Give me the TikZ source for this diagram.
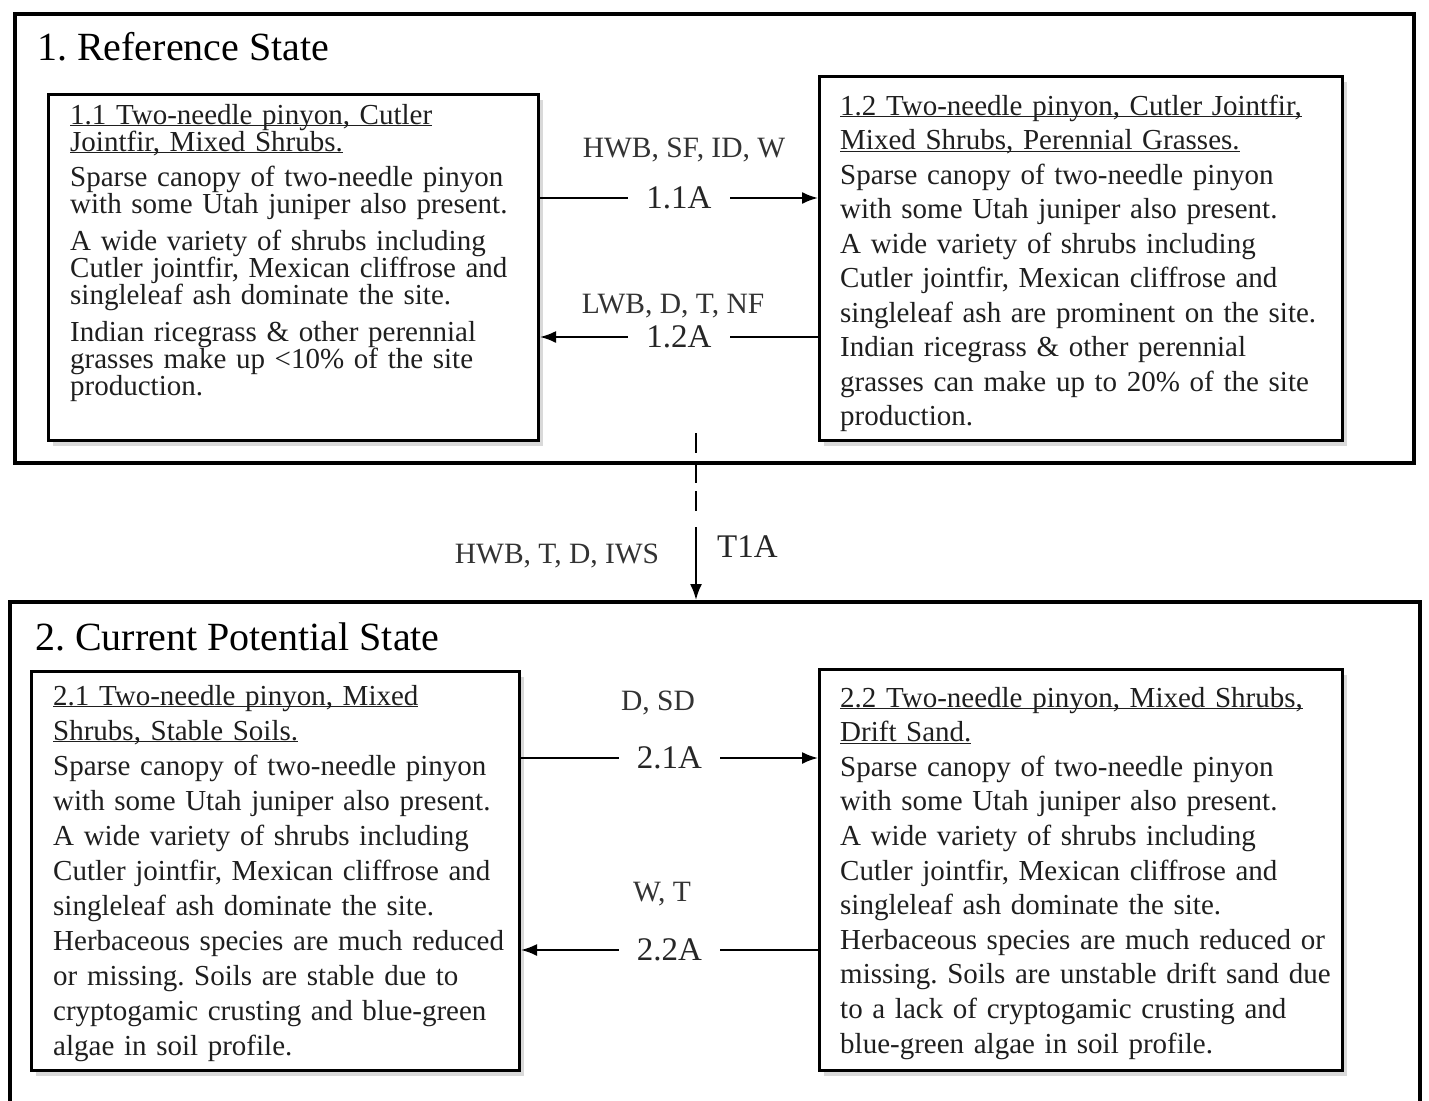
\documentclass[tikz,border=0pt]{standalone}
\usepackage{fontspec}
\setmainfont{Liberation Serif}
\usetikzlibrary{arrows.meta, shadows}
\newcommand\shead[1]{\underline{\smash{#1}}}

\begin{document}
\frenchspacing
\begin{tikzpicture}[x=1pt, y=-1pt]
            \tikzset{outerbox/.style = {draw, line width=4pt}}
            \tikzset{statebox/.style = {draw, line width=3pt, fill=white,
                drop shadow={shadow xshift=4pt, shadow yshift=-5pt, opacity=0.3}}}
            \tikzset{boxtext/.style = {anchor=base west, inner sep=0pt, align=left,
                text width=520pt, text=black!88}}
            \tikzset{title/.style = {anchor=base west, inner sep=0pt, font=\fontsize{40}{40}\selectfont}}
            \tikzset{cond/.style = {anchor=base, inner sep=0pt, text=black!80, font=\fontsize{29.5}{29.5}\selectfont}}
            \tikzset{numlabel/.style = {fill=white, inner xsep=18pt, inner ysep=2pt,
                text=black!85, font=\fontsize{33}{33}\selectfont}}
            \tikzset{trans/.style = {line width=2pt, -{Latex[length=16pt, width=12pt]}}}

            \useasboundingbox (0,0) rectangle (1429,1100);

            % states
            \node[outerbox, minimum width=1399pt, minimum height=449pt] (state1) at (714.5, 238.5) {};
            \node[outerbox, minimum width=1410pt, minimum height=518pt] (state2) at (715, 861) {};
            \node[title] (title1) at (37, 60) {1. Reference State};
            \node[title] (title2) at (35, 650) {2. Current Potential State};

            % communities
            \node[statebox, minimum width=490pt, minimum height=346pt] (s11) at (293.5, 267.5) {};
            \node[statebox, minimum width=523pt, minimum height=364pt] (s12) at (1081, 258.5) {};
            \node[statebox, minimum width=488pt, minimum height=399pt] (s21) at (275.5, 871) {};
            \node[statebox, minimum width=523pt, minimum height=401pt] (s22) at (1081, 870) {};

            \node[boxtext, font=\fontsize{29}{27}\selectfont] (s11txt) at (70, 124) {%
              \shead{1.1 Two-needle pinyon, Cutler}\\
              \shead{Jointfir, Mixed Shrubs.}\\[8pt]
              Sparse canopy of two-needle pinyon\\
              with some Utah juniper also present.\\[10pt]
              A wide variety of shrubs including\\
              Cutler jointfir, Mexican cliffrose and\\
              singleleaf ash dominate the site.\\[10pt]
              Indian ricegrass \& other perennial\\
              grasses make up <10\% of the site\\
              production.};
            \node[boxtext, font=\fontsize{29}{34.5}\selectfont] (s12txt) at (840, 115) {%
              \shead{1.2 Two-needle pinyon, Cutler Jointfir,}\\
              \shead{Mixed Shrubs, Perennial Grasses.}\\
              Sparse canopy of two-needle pinyon\\
              with some Utah juniper also present.\\
              A wide variety of shrubs including\\
              Cutler jointfir, Mexican cliffrose and\\
              singleleaf ash are prominent on the site.\\
              Indian ricegrass \& other perennial\\
              grasses can make up to 20\% of the site\\
              production.};
            \node[boxtext, font=\fontsize{29}{35}\selectfont] (s21txt) at (53, 705) {%
              \shead{2.1 Two-needle pinyon, Mixed}\\
              \shead{Shrubs, Stable Soils.}\\
              Sparse canopy of two-needle pinyon\\
              with some Utah juniper also present.\\
              A wide variety of shrubs including\\
              Cutler jointfir, Mexican cliffrose and\\
              singleleaf ash dominate the site.\\
              Herbaceous species are much reduced\\
              or missing. Soils are stable due to\\
              cryptogamic crusting and blue-green\\
              algae in soil profile.};
            \node[boxtext, font=\fontsize{29}{34.6}\selectfont] (s22txt) at (840, 707) {%
              \shead{2.2 Two-needle pinyon, Mixed Shrubs,}\\
              \shead{Drift Sand.}\\
              Sparse canopy of two-needle pinyon\\
              with some Utah juniper also present.\\
              A wide variety of shrubs including\\
              Cutler jointfir, Mexican cliffrose and\\
              singleleaf ash dominate the site.\\
              Herbaceous species are much reduced or\\
              missing. Soils are unstable drift sand due\\
              to a lack of cryptogamic crusting and\\
              blue-green algae in soil profile.};

            % pathways
            \coordinate (y11) at (0, 198);
            \coordinate (y12) at (0, 337);
            \coordinate (y21) at (0, 758);
            \coordinate (y22) at (0, 950);
            \coordinate (t1top) at (696, 433);

            \draw[trans] (s11.east |- y11) -- node[numlabel] (p11) {1.1A} (s12.west |- y11);
            \draw[trans] (s12.west |- y12) -- node[numlabel] (p12) {1.2A} (s11.east |- y12);
            \draw[trans] (s21.east |- y21) -- node[numlabel] (p21) {2.1A} (s22.west |- y21);
            \draw[trans] (s22.west |- y22) -- node[numlabel] (p22) {2.2A} (s21.east |- y22);
            \draw[trans, dash pattern=on 20pt off 10pt on 20pt off 8pt on 20pt off 16pt on 200pt]
              (t1top) -- (t1top |- state2.north);

            \node[cond] (c11) at (684, 157) {HWB, SF, ID, W};
            \node[cond] (c12) at (673, 313) {LWB, D, T, NF};
            \node[cond] (c21) at (658, 710) {D, SD};
            \node[cond] (c22) at (662, 901) {W, T};
            \node[cond] (ct1) at (557, 563) {HWB, T, D, IWS};
            \node[anchor=base west, inner sep=0pt, text=black!85, font=\fontsize{33}{33}\selectfont] (t1a) at (717, 557) {T1A};
\end{tikzpicture}
\end{document}
